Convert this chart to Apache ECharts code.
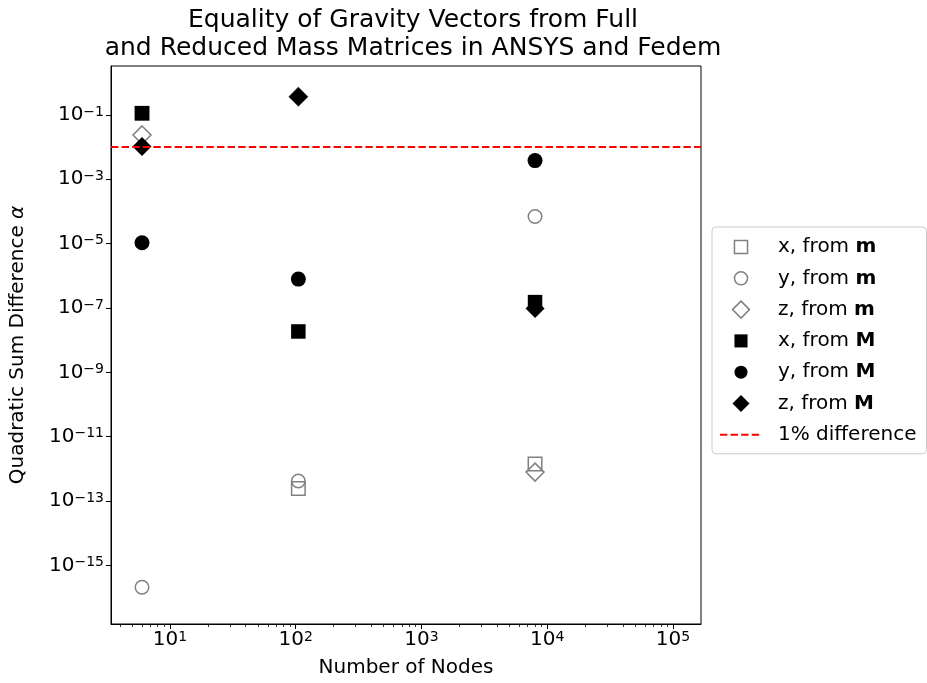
<!DOCTYPE html>
<html>
<head>
<meta charset="utf-8">
<script src="https://cdn.jsdelivr.net/npm/echarts@6/dist/echarts.min.js"></script>
<style>
    html, body { margin: 0; padding: 0; background: #fff; }
    #chart { width: 927px; height: 683px; }
</style>
</head>
<body>
<div id="chart"></div>
<script>
    // number of nodes of the three models
    var nodes = [6, 105, 8000]
    // quadratic sum difference, gravity vector from the reduced mass matrix m
    var xFromSmall = [0.113, 2.46e-13, 1.42e-12]
    var yFromSmall = [2.09e-16, 4.2e-13, 6.95e-5]
    var zFromSmall = [0.0239, 0.37, 7.9e-13]
    // ... and from the full mass matrix M
    var xFromBig = [0.113, 1.86e-8, 1.52e-7]
    var yFromBig = [1.06e-5, 7.9e-7, 3.81e-3]
    var zFromBig = [0.0104, 0.37, 9.7e-8]
    var threshold = 0.01 // 1% difference

    // tick labels (powers of ten)
    var xTickExps = [1, 2, 3, 4, 5]
    var yTickExps = [-15, -13, -11, -9, -7, -5, -3, -1]

    var xMin = 3.40, xMax = 1.67e5
    var yMin = 1.5e-17, yMax = 3.32

    var FONT = 'DejaVu Sans'
    var GREY = '#808080'
    // legend icons, path based so that they keep their aspect in the wide legend slot
    // (the bare moveTo points only pad the bounding box, making square/circle a bit smaller than the diamond)
    var SQUARE_ICON = 'path://M-1.5,-1.5M11.5,11.5M0,0h10v10h-10z'
    var CIRCLE_ICON = 'path://M-1.5,-1.5M11.5,11.5M0,5a5,5 0 1,0 10,0a5,5 0 1,0 -10,0z'
    var DIAMOND_ICON = 'path://M5,0L10,5L5,10L0,5z'

    var xTicks = xTickExps.map(function (e) { return Math.pow(10, e) })
    var yTicks = yTickExps.map(function (e) { return Math.pow(10, e) })
    var xMinor = []
    for (var e = 0; e <= 5; e++) {
        for (var m = 2; m <= 9; m++) {
            var v = m * Math.pow(10, e)
            if (v > xMin && v < xMax) xMinor.push(v)
        }
    }

    function pairs(ys) {
        return nodes.map(function (n, i) { return [n, ys[i]] })
    }

    function powLabel(v) {
        var e = Math.round(Math.log10(v))
        return '{b|10}{s|' + String(e).replace('-', '\u2212') + '}'
    }

    var powRich = {
        b: { fontSize: 20, fontFamily: FONT, color: '#000', lineHeight: 20, padding: [5, 0, 0, 0], verticalAlign: 'bottom' },
        s: { fontSize: 14, fontFamily: FONT, color: '#000', lineHeight: 14, verticalAlign: 'top' }
    }

    function openSeries(name, symbol, size, ys) {
        return {
            name: name, type: 'scatter', symbol: symbol, symbolSize: size,
            data: pairs(ys), z: 2,
            itemStyle: { color: 'rgba(0,0,0,0)', borderColor: GREY, borderWidth: 1.5, opacity: 1 }
        }
    }

    function filledSeries(name, symbol, size, ys) {
        return {
            name: name, type: 'scatter', symbol: symbol, symbolSize: size,
            data: pairs(ys), z: 3,
            itemStyle: { color: '#000', opacity: 1 }
        }
    }

    var dashStyle = { color: '#ff0000', width: 2, type: [7.4, 3.2] }

    var chart = echarts.init(document.getElementById('chart'))
    chart.setOption({
        animation: false,
        title: {
            text: 'Equality of Gravity Vectors from Full\nand Reduced Mass Matrices in ANSYS and Fedem',
            left: 408,
            top: 1,
            textAlign: 'center',
            textStyle: { fontFamily: FONT, fontSize: 25, fontWeight: 'normal', color: '#000', lineHeight: 28 }
        },
        grid: {
            left: 110, top: 66, width: 591, height: 559,
            show: true, borderColor: '#000', borderWidth: 1
        },
        legend: {
            orient: 'vertical',
            left: 712,
            top: 227,
            itemWidth: 42,
            itemHeight: 17,
            itemGap: 11.3,
            symbolKeepAspect: true,
            padding: [10, 10, 9, 7],
            borderColor: '#cccccc',
            borderWidth: 1,
            borderRadius: 4,
            backgroundColor: 'rgba(255,255,255,0.8)',
            textStyle: {
                fontFamily: FONT, fontSize: 20, color: '#000', lineHeight: 20,
                rich: {
                    t: { fontFamily: FONT, fontSize: 20, color: '#000', padding: [0, 0, 0, 11] },
                    b: { fontFamily: FONT, fontSize: 20, color: '#000', fontWeight: 'bold' }
                }
            },
            formatter: function (name) {
                if (name.indexOf('from') < 0) return '{t|' + name + '}'
                return '{t|' + name.slice(0, -1) + '}{b|' + name.slice(-1) + '}'
            },
            data: [
                { name: 'x, from m', icon: SQUARE_ICON, itemStyle: { borderWidth: 1.5 } },
                { name: 'y, from m', icon: CIRCLE_ICON, itemStyle: { borderWidth: 1.5 } },
                { name: 'z, from m', icon: DIAMOND_ICON, itemStyle: { borderWidth: 1.5 } },
                { name: 'x, from M', icon: SQUARE_ICON },
                { name: 'y, from M', icon: CIRCLE_ICON },
                { name: 'z, from M', icon: DIAMOND_ICON },
                { name: '1% difference', itemStyle: { opacity: 0 } }
            ]
        },
        xAxis: [
            {
                type: 'log', logBase: 10, min: xMin, max: xMax,
                name: 'Number of Nodes', nameLocation: 'middle', nameGap: 34,
                nameTextStyle: { fontFamily: FONT, fontSize: 20, color: '#000' },
                axisLine: { show: true, lineStyle: { color: '#000', width: 1 } },
                axisTick: { show: true, length: 5, customValues: xTicks, lineStyle: { color: '#000', width: 1 } },
                axisLabel: { customValues: xTicks, formatter: powLabel, rich: powRich, margin: 6 },
                splitLine: { show: false }
            },
            {
                type: 'log', logBase: 10, min: xMin, max: xMax, position: 'bottom',
                axisLine: { show: false },
                axisTick: { show: true, length: 3, customValues: xMinor, lineStyle: { color: '#000', width: 0.8 } },
                axisLabel: { show: false },
                splitLine: { show: false }
            }
        ],
        yAxis: {
            type: 'log', logBase: 10, min: yMin, max: yMax,
            name: 'Quadratic Sum Difference {i|\u03b1}', nameLocation: 'middle', nameGap: 83,
            nameTextStyle: {
                fontFamily: FONT, fontSize: 20, color: '#000',
                rich: { i: { fontFamily: FONT, fontSize: 20, fontStyle: 'italic', color: '#000' } }
            },
            axisLine: { show: true, lineStyle: { color: '#000', width: 1 } },
            axisTick: { show: true, length: 5, customValues: yTicks, lineStyle: { color: '#000', width: 1 } },
            axisLabel: { customValues: yTicks, formatter: powLabel, rich: powRich, margin: 7 },
            splitLine: { show: false }
        },
        series: [
            openSeries('x, from m', 'rect', 13.5, xFromSmall),
            openSeries('y, from m', 'circle', 13.5, yFromSmall),
            openSeries('z, from m', 'diamond', 18, zFromSmall),
            filledSeries('x, from M', 'rect', 14.5, xFromBig),
            filledSeries('y, from M', 'circle', 15, yFromBig),
            filledSeries('z, from M', 'diamond', 19, zFromBig),
            {
                name: '1% difference', type: 'line', data: [], symbol: 'none', showSymbol: false, z: 4,
                itemStyle: { color: '#ff0000' },
                lineStyle: dashStyle,
                markLine: {
                    silent: true, symbol: 'none', label: { show: false },
                    lineStyle: dashStyle,
                    data: [{ yAxis: threshold }]
                }
            }
        ]
    })
</script>
</body>
</html>
